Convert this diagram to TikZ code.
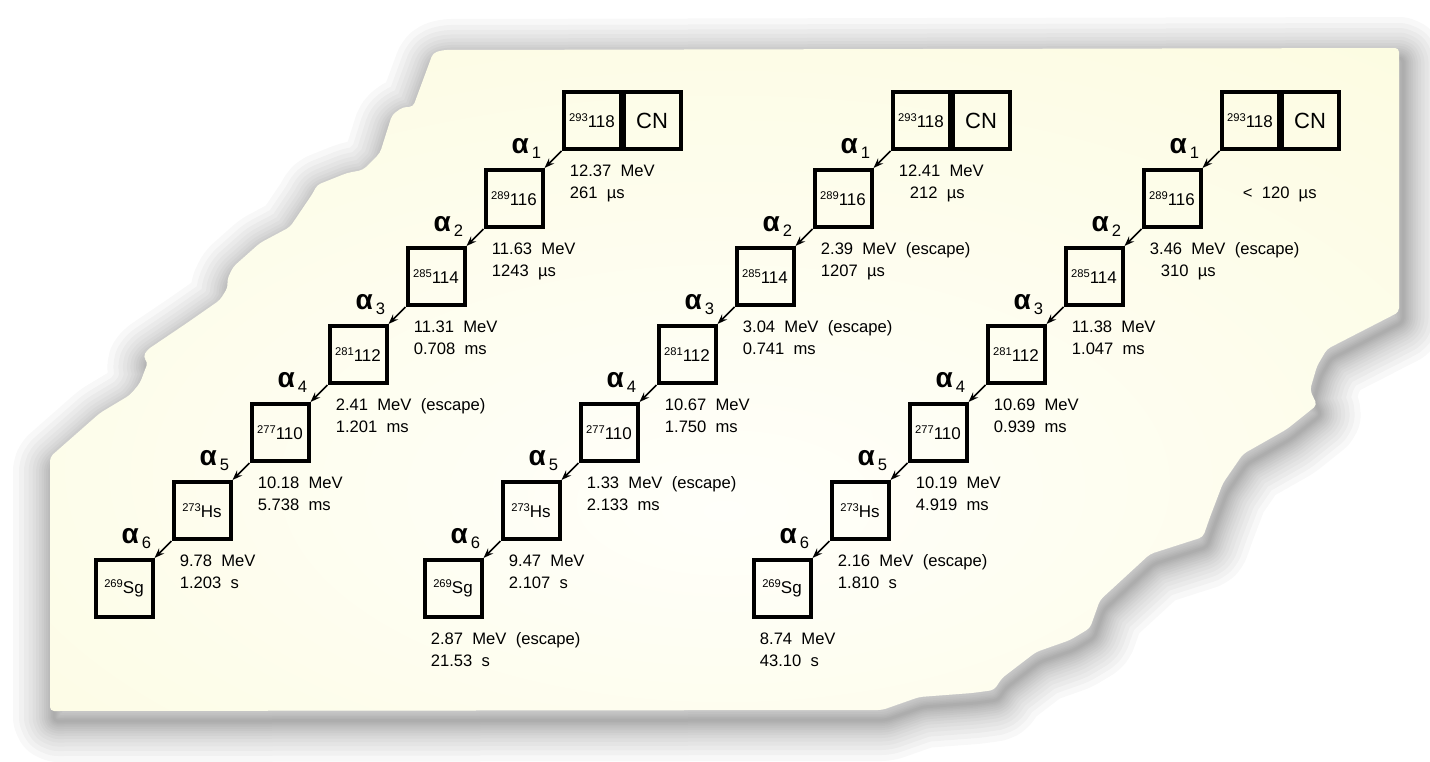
\documentclass[tikz,border=0pt]{standalone}
\usepackage{fontspec}
\setmainfont{Liberation Sans}
\usetikzlibrary{arrows.meta}
\definecolor{paperedge}{RGB}{252,251,222}
\definecolor{papermid}{RGB}{255,255,250}
\pgfdeclareradialshading{paperglow}{\pgfpoint{0bp}{-10bp}}{color(0bp)=(papermid); color(22bp)=(papermid!50!paperedge); color(45bp)=(paperedge); color(75bp)=(paperedge)}
\newcommand\tornpaper{(443,50) -- (1399,48) -- (1399,312) -- (1327,349) -- (1317,366) -- (1310,390) -- (1317,405) -- (1287,429) -- (1243,454) -- (1223,483) -- (1210,517) -- (1203,537) -- (1150,554) -- (1100,600) -- (1090,628) -- (1070,640) -- (1036,652) -- (1002,678) -- (994,690) -- (972,693) -- (919,697) -- (882,710) -- (50,711) -- (50,457) -- (100,413) -- (130,395) -- (140,383) -- (148,362) -- (143,357) -- (147,350) -- (187,323) -- (220,300) -- (228,287) -- (227,280) -- (233,267) -- (260,243) -- (290,227) -- (313,193) -- (317,185) -- (347,173) -- (363,170) -- (380,153) -- (392,115) -- (403,107) -- (413,107) -- (433,53) -- cycle}
\newcommand\iso[2]{\raisebox{3.3pt}{\fontsize{5.6}{6}\selectfont #1}#2}

\begin{document}
\begin{tikzpicture}[x=0.5pt, y=-0.5pt,
  nucl/.style={draw, line width=2pt, minimum size=28.5pt, inner sep=0pt, font=\fontsize{8.5}{9}\selectfont},
  decay/.style={line width=0.8pt, -{Stealth[length=5pt,width=3.6pt]}},
  alphalab/.style={anchor=base east, inner sep=0pt, xshift=-10pt, yshift=-1pt, font=\fontsize{8.3}{9}\selectfont},
  eline/.style={anchor=base west, inner sep=0pt, font=\fontsize{8.3}{9}\selectfont}]
\useasboundingbox (0,0) rectangle (1430,761);

% shadow and paper
\begin{scope}[shift={(4,10)}]
\foreach \w in {3,6,9,12,16,20,25,30,36,43,51,60,70,82}
  \draw[black, opacity=0.028, line width=\w*0.5pt, line join=round, rounded corners=2pt] \tornpaper;
\end{scope}
\shade[shading=paperglow, rounded corners=2pt] \tornpaper;

% the three chains
\foreach \ch/\dx in {a/0,b/329,c/658} {
  \node[nucl] (\ch0) at (592+\dx,120.5) {\iso{293}{118}};
  \node[nucl, font=\fontsize{11}{12}\selectfont] (\ch cn) at (652+\dx,120.5) {CN};
  \node[nucl] (\ch1) at (514+\dx,198.5) {\iso{289}{116}};
  \node[nucl] (\ch2) at (436+\dx,276.5) {\iso{285}{114}};
  \node[nucl] (\ch3) at (358+\dx,354.5) {\iso{281}{112}};
  \node[nucl] (\ch4) at (280+\dx,432.5) {\iso{277}{110}};
  \node[nucl] (\ch5) at (202+\dx,510.5) {\iso{273}{Hs}};
  \node[nucl] (\ch6) at (124+\dx,588.5) {\iso{269}{Sg}};
  \foreach \i [evaluate=\i as \j using int(\i+1)] in {0,...,5} {
    \draw[decay] (\ch\i.south west) -- (\ch\j.north east);
    \node[alphalab] (\ch\i al) at (\ch\i.south west) {{\fontsize{14}{14}\selectfont\bfseries α}\kern1.5pt\raisebox{-2.5pt}{\j}};
  }
}

% energies and times
\foreach \nm/\e/\t/\o in {
  a0/12.37~~MeV/261~~µs/8, a1/11.63~~MeV/1243~~µs/8, a2/11.31~~MeV/0.708~~ms/8,
  a3/2.41~~MeV~~(escape)/1.201~~ms/8, a4/10.18~~MeV/5.738~~ms/8, a5/9.78~~MeV/1.203~~s/8,
  b0/12.41~~MeV/212~~µs/19, b1/2.39~~MeV~~(escape)/1207~~µs/8, b2/3.04~~MeV~~(escape)/0.741~~ms/8,
  b3/10.67~~MeV/1.750~~ms/8, b4/1.33~~MeV~~(escape)/2.133~~ms/8, b5/9.47~~MeV/2.107~~s/8,
  b6/2.87~~MeV~~(escape)/21.53~~s/8,
  c1/3.46~~MeV~~(escape)/310~~µs/19, c2/11.38~~MeV/1.047~~ms/8, c3/10.69~~MeV/0.939~~ms/8,
  c4/10.19~~MeV/4.919~~ms/8, c5/2.16~~MeV~~(escape)/1.810~~s/8, c6/8.74~~MeV/43.10~~s/8} {
  \node[eline] (\nm e) at ([shift={(8,25)}]\nm.south west) {\e};
  \node[eline] (\nm t) at ([shift={(\o,47)}]\nm.south west) {\t};
}
\node[eline] (c0t) at ([shift={(23,47)}]c0.south west) {<~~120~~µs};
\end{tikzpicture}
\end{document}
